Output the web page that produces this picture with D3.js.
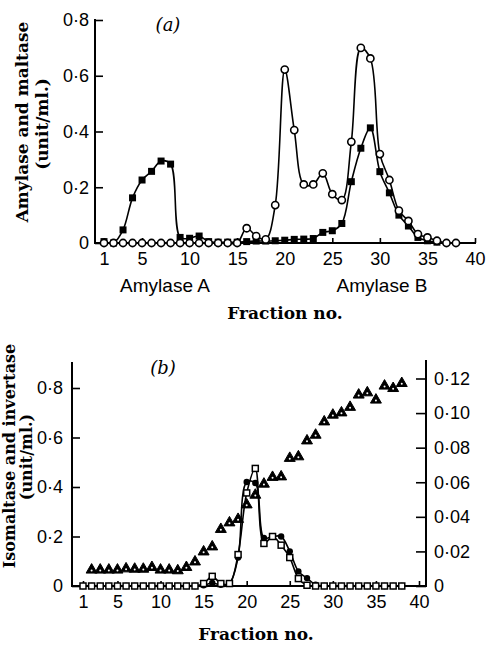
<!DOCTYPE html>
<html>
<head>
<meta charset="utf-8">
<script src="https://cdn.jsdelivr.net/npm/d3@7"></script>
<style>
  body { margin: 0; background: #fff; }
  svg { display: block; }
</style>
</head>
<body>
<svg id="chart" width="486" height="647"></svg>
<script>
// ---- panel (a) ----
const fractionsA = [1,2,3,4,5,6,7,8,9,10,11,12,13,14,15,16,17,18,19,20,21,22,23,24,25,26,27,28,29,30,31,32,33,34,35,36,37,38];
// filled squares (fractions 1-36)
const squaresA = [0.005,0,0.047,0.162,0.226,0.257,0.294,0.283,0.02,0.017,0.025,0.005,0.003,0.003,0.003,0.005,0.007,0.007,0.008,0.01,
  0.013,0.014,0.016,0.038,0.044,0.07,0.22,0.34,0.413,0.256,0.18,0.1,0.061,0.02,0.008,0.003,null,null];
// open circles
const circlesA = [0,0,0,0,0,0,0,0,0,0,0,0,0,0,0,0.053,0.025,0.013,0.136,0.622,
  0.405,0.21,0.21,0.25,0.175,0.154,0.363,0.70,0.662,0.319,0.226,0.116,0.079,0.032,0.02,0.008,0,0];
const yTicksA = [0, 0.2, 0.4, 0.6, 0.8];
const xTicks = [1, 5, 10, 15, 20, 25, 30, 35, 40];

// ---- panel (b) ----
const fractionsB = [1,2,3,4,5,6,7,8,9,10,11,12,13,14,15,16,17,18,19,20,21,22,23,24,25,26,27,28,29,30,31,32,33,34,35,36,37,38];
const squaresB = [0,0,0,0,0,0,0,0,0,0,0,0,0,0,0.01,0.039,0.01,0.01,0.127,0.376,
  0.475,0.172,0.2,0.165,0.115,0.03,0.003,0,0,0,0,0,0,0,0,0,0,0];
const dotsB = [0,0,0,0,0,0,0,0,0,0,0,0,0,0,0.003,0.012,0.005,0.01,0.115,0.42,
  0.416,0.194,0.2,0.2,0.14,0.059,0.032,0.005,0,0,0,0,0,0,0,0,0,0];
// triangles, right axis (fractions 2-38)
const triFractions = [2,3,4,5,6,7,8,9,10,11,12,13,14,15,16,17,18,19,20,21,22,23,24,25,26,27,28,29,30,31,32,33,34,35,36,37,38];
const trianglesB = [0.0093,0.0093,0.0093,0.0093,0.0100,0.0098,0.0098,0.0108,0.0093,0.0093,0.0089,0.0108,0.014,0.0198,0.0227,
  0.0328,0.0366,0.0386,0.047,0.0526,
  0.059,0.0629,0.0632,0.0739,0.0748,0.084,0.0873,0.095,0.0989,0.1002,0.1034,0.1105,0.1118,0.1076,0.1157,0.1143,0.1172];
const yTicksB = [0, 0.2, 0.4, 0.6, 0.8];
const yTicksR = [0, 0.02, 0.04, 0.06, 0.08, 0.10, 0.12];

const tickFont = "'Liberation Sans', Arial, sans-serif";
const titleFont = "'DejaVu Serif', 'Liberation Serif', serif";

const svg = d3.select("#chart");

const fmt = (digits) => (v) => v === 0 ? "0" : v.toFixed(digits).replace(".", "\u00b7");

const zip = (xs, ys) => xs.map((x, i) => [x, ys[i]]);

// scales
const xA = d3.scaleLinear().domain([1, 40]).range([104, 475]);
const yA = d3.scaleLinear().domain([0, 0.8]).range([243, 20]);
const xB = d3.scaleLinear().domain([1, 40]).range([83, 419]);
const yB = d3.scaleLinear().domain([0, 0.8]).range([586, 388]);
const yR = d3.scaleLinear().domain([0, 0.12]).range([586, 378.5]);

function styleAxis(g) {
  g.select(".domain").remove();
  g.selectAll(".tick line").attr("stroke", "#000").attr("stroke-width", 1.6);
  g.selectAll(".tick text")
    .attr("font-family", tickFont)
    .attr("font-size", 18)
    .attr("fill", "#000");
}

function axisLines(g, x0, x1, y0, yTop, xRight, yTopR) {
  g.append("line").attr("x1", x0).attr("x2", x0).attr("y1", y0 + 1).attr("y2", yTop);
  g.append("line").attr("x1", x0 - 1).attr("x2", x1).attr("y1", y0).attr("y2", y0);
  if (xRight != null) {
    g.append("line").attr("x1", xRight).attr("x2", xRight).attr("y1", y0 + 1).attr("y2", yTopR);
  }
  g.selectAll("line").attr("stroke", "#000").attr("stroke-width", 2);
}

// smooth hand-drawn look, clamped so it never dips under the baseline
const lineGen = (x, y) => d3.line()
  .defined((d) => d[1] != null)
  .x((d) => x(d[0]))
  .y((d) => Math.min(y(d[1]), y(0)))
  .curve(d3.curveCatmullRom.alpha(0.5));

// ================= panel (a) =================
const pa = svg.append("g");

pa.append("g")
  .attr("transform", "translate(95,0)")
  .call(d3.axisLeft(yA).tickValues(yTicksA).tickSizeInner(-8).tickSizeOuter(0).tickPadding(6).tickFormat(fmt(1)))
  .call(styleAxis);

pa.append("g")
  .attr("transform", "translate(0,243)")
  .call(d3.axisBottom(xA).tickValues(xTicks).tickSizeInner(-5).tickSizeOuter(0).tickPadding(9))
  .call(styleAxis);

axisLines(pa.append("g"), 95, 476, 243, 19);

pa.append("path")
  .datum(zip(fractionsA, squaresA))
  .attr("fill", "none").attr("stroke", "#000").attr("stroke-width", 1.6)
  .attr("d", lineGen(xA, yA));

pa.append("path")
  .datum(zip(fractionsA, circlesA))
  .attr("fill", "none").attr("stroke", "#000").attr("stroke-width", 1.6)
  .attr("d", lineGen(xA, yA));

pa.append("g").selectAll("rect")
  .data(zip(fractionsA, squaresA).filter((d) => d[1] != null))
  .join("rect")
  .attr("x", (d) => xA(d[0]) - 3.5)
  .attr("y", (d) => yA(d[1]) - 3.5)
  .attr("width", 7).attr("height", 7)
  .attr("fill", "#000");

pa.append("g").selectAll("circle")
  .data(zip(fractionsA, circlesA))
  .join("circle")
  .attr("cx", (d) => xA(d[0]))
  .attr("cy", (d) => yA(d[1]))
  .attr("r", 3.6)
  .attr("fill", "#fff").attr("stroke", "#000").attr("stroke-width", 1.6);

pa.append("text").attr("x", 168).attr("y", 31)
  .attr("text-anchor", "middle")
  .attr("font-family", titleFont).attr("font-style", "italic").attr("font-size", 18)
  .text("(a)");

const ylabA = pa.append("g")
  .attr("font-family", titleFont).attr("font-weight", "bold").attr("font-size", 17)
  .attr("text-anchor", "middle");
ylabA.append("text").attr("transform", "translate(28,122) rotate(-90)").text("Amylase and maltase");
ylabA.append("text").attr("transform", "translate(48,124) rotate(-90)").text("(unit/ml.)");

pa.append("g")
  .attr("font-family", tickFont).attr("font-size", 19).attr("text-anchor", "middle")
  .call((g) => {
    g.append("text").attr("x", 165).attr("y", 292).text("Amylase A");
    g.append("text").attr("x", 382).attr("y", 292).text("Amylase B");
  });

pa.append("text").attr("x", 285).attr("y", 319)
  .attr("text-anchor", "middle")
  .attr("font-family", titleFont).attr("font-weight", "bold").attr("font-size", 17)
  .text("Fraction no.");

// ================= panel (b) =================
const pb = svg.append("g");

pb.append("g")
  .attr("transform", "translate(72,0)")
  .call(d3.axisLeft(yB).tickValues(yTicksB).tickSizeInner(-8).tickSizeOuter(0).tickPadding(9).tickFormat(fmt(1)))
  .call(styleAxis);

pb.append("g")
  .attr("transform", "translate(426,0)")
  .call(d3.axisRight(yR).tickValues(yTicksR).tickSizeInner(-10).tickSizeOuter(0).tickPadding(8).tickFormat(fmt(2)))
  .call(styleAxis);

pb.append("g")
  .attr("transform", "translate(0,586)")
  .call(d3.axisBottom(xB).tickValues(xTicks).tickSizeInner(-5).tickSizeOuter(0).tickPadding(9))
  .call(styleAxis);

axisLines(pb.append("g"), 72, 426, 586, 362, 426, 360);

pb.append("path")
  .datum(zip(fractionsB, squaresB))
  .attr("fill", "none").attr("stroke", "#000").attr("stroke-width", 1.6)
  .attr("d", lineGen(xB, yB));

pb.append("path")
  .datum(zip(fractionsB, dotsB))
  .attr("fill", "none").attr("stroke", "#000").attr("stroke-width", 1.6)
  .attr("d", lineGen(xB, yB));

pb.append("g").selectAll("circle")
  .data(zip(fractionsB, dotsB))
  .join("circle")
  .attr("cx", (d) => xB(d[0]))
  .attr("cy", (d) => yB(d[1]))
  .attr("r", 3.2)
  .attr("fill", "#000");

pb.append("g").selectAll("rect")
  .data(zip(fractionsB, squaresB))
  .join("rect")
  .attr("x", (d) => xB(d[0]) - 3)
  .attr("y", (d) => yB(d[1]) - 3)
  .attr("width", 6).attr("height", 6)
  .attr("fill", "#fff").attr("stroke", "#000").attr("stroke-width", 1.5);

const tri = pb.append("g").selectAll("g")
  .data(zip(triFractions, trianglesB))
  .join("g")
  .attr("transform", (d) => `translate(${xB(d[0])},${yR(d[1])})`);
tri.append("path")
  .attr("d", d3.symbol(d3.symbolTriangle).size(52))
  .attr("fill", "#000").attr("stroke", "#000").attr("stroke-width", 1);
tri.append("circle").attr("cy", 0.5).attr("r", 1).attr("fill", "#fff");

pb.append("text").attr("x", 163).attr("y", 374)
  .attr("text-anchor", "middle")
  .attr("font-family", titleFont).attr("font-style", "italic").attr("font-size", 18)
  .text("(b)");

const ylabB = pb.append("g")
  .attr("font-family", titleFont).attr("font-weight", "bold").attr("font-size", 16)
  .attr("text-anchor", "middle");
ylabB.append("text").attr("transform", "translate(15,456) rotate(-90)").text("Isomaltase and invertase");
ylabB.append("text").attr("transform", "translate(32,457) rotate(-90)").text("(unit/ml.)");

pb.append("text").attr("x", 256).attr("y", 640)
  .attr("text-anchor", "middle")
  .attr("font-family", titleFont).attr("font-weight", "bold").attr("font-size", 17)
  .text("Fraction no.");
</script>
</body>
</html>
